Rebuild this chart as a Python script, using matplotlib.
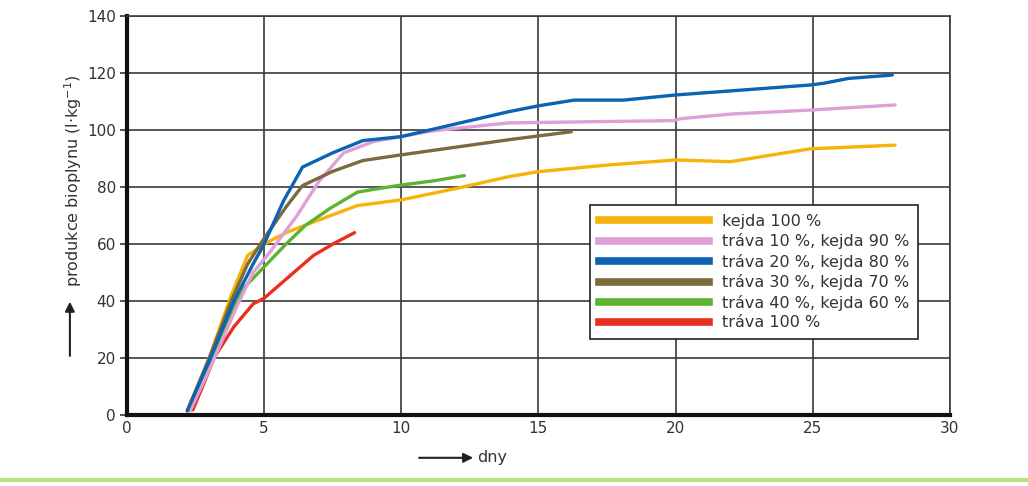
import matplotlib.pyplot as plt
from matplotlib.lines import Line2D

# data (days, l/kg)
kejda_x = [2.2, 3.0, 3.8, 4.4, 5.0, 5.8, 6.6, 8.4, 10.0, 12.0, 13.9, 15.0, 17.5, 20.0, 22.0, 24.9, 28.0]
kejda_y = [1.5, 20, 42, 56, 60, 64, 67, 73.5, 75.5, 79.5, 83.6, 85.4, 87.7, 89.5, 88.9, 93.4, 94.7]

trava10_x = [2.3, 3.1, 4.0, 4.6, 5.2, 6.2, 7.0, 7.9, 9.0, 10.0, 11.0, 12.1, 13.9, 17.5, 19.9, 20.2, 22.0, 24.9, 28.0]
trava10_y = [1.5, 18, 38, 50, 57, 70, 82, 92, 96, 97.7, 99.5, 100.7, 102.5, 103, 103.3, 104, 105.6, 107, 108.8]

trava20_x = [2.2, 3.0, 3.9, 4.6, 5.0, 5.7, 6.4, 7.5, 8.6, 10.0, 12.1, 13.9, 15.0, 16.3, 18.1, 20.0, 24.9, 25.4, 26.3, 27.9]
trava20_y = [1.5, 19, 40, 53, 60, 75, 87, 92, 96.3, 97.7, 102.4, 106.4, 108.5, 110.5, 110.5, 112.3, 115.8, 116.4, 118.1, 119.3]

trava30_x = [2.2, 3.0, 3.8, 4.4, 5.0, 5.8, 6.4, 7.5, 8.6, 10.0, 12.0, 14.0, 16.2]
trava30_y = [1.5, 20, 40, 53, 62, 73, 80.5, 85.5, 89.3, 91.3, 94.0, 96.7, 99.4]

trava40_x = [2.3, 3.0, 3.7, 4.3, 5.1, 5.8, 6.5, 7.4, 8.4, 9.0, 10.0, 11.2, 12.3]
trava40_y = [1.5, 18, 34, 45, 53, 60, 66.5, 72.5, 78.2, 79.2, 80.7, 82.2, 84.0]

trava100_x = [2.4, 2.8, 3.2, 3.9, 4.6, 5.0, 5.9, 6.8, 7.6, 8.3]
trava100_y = [1.8, 11, 20.5, 31, 39, 41, 48.5, 56, 60.5, 64]

labels = ['kejda 100 %', 'tráva 10 %, kejda 90 %', 'tráva 20 %, kejda 80 %',
          'tráva 30 %, kejda 70 %', 'tráva 40 %, kejda 60 %', 'tráva 100 %']
colors = ['#f6b40a', '#dea0d6', '#0c63b2', '#7b6a3c', '#5db232', '#ea2f20']

fig = plt.figure(figsize=(10.28, 4.86), dpi=100)
ax = fig.add_axes([0.1235, 0.146, 0.8005, 0.821])

series = [(kejda_x, kejda_y), (trava10_x, trava10_y), (trava20_x, trava20_y),
          (trava30_x, trava30_y), (trava40_x, trava40_y), (trava100_x, trava100_y)]
# draw order so the blue/brown sit on top like the original
order = [0, 5, 4, 1, 3, 2]
for i in order:
    xs, ys = series[i]
    ax.plot(xs, ys, color=colors[i], lw=2.4, solid_capstyle='round', zorder=3)

ax.set_xlim(0, 30)
ax.set_ylim(0, 140)
ax.set_xticks(range(0, 31, 5))
ax.set_yticks(range(0, 141, 20))
ax.grid(True, color='#3a3a3a', lw=1.2)
ax.set_axisbelow(True)
for s in ['top', 'right']:
    ax.spines[s].set_color('#3a3a3a')
    ax.spines[s].set_linewidth(1.2)
for s in ['left', 'bottom']:
    ax.spines[s].set_color('#111111')
    ax.spines[s].set_linewidth(3)
ax.tick_params(axis='x', length=0, pad=4, labelsize=11, labelcolor='#333333')
ax.tick_params(axis='y', length=5, width=1.2, color='#333333', pad=3, labelsize=11, labelcolor='#333333')

leg = ax.legend([Line2D([], [], color=c, lw=5.5) for c in colors], labels,
                loc='upper left', bbox_to_anchor=(0.5626, 0.526), borderaxespad=0,
                fontsize=11.5, handlelength=6.9, labelspacing=0.28, fancybox=False,
                framealpha=1, borderpad=0.55, handletextpad=0.8)
leg.get_frame().set_edgecolor('#222222')
leg.get_frame().set_linewidth(1.2)
for t in leg.get_texts():
    t.set_color('#333333')

# y label with arrow
fig.text(0.071, 0.628, 'produkce bioplynu (l·kg$^{-1}$)', rotation=90, ha='center', va='center',
         fontsize=11.5, color='#333333')
ax.annotate('', xy=(0.068, 0.385), xytext=(0.068, 0.262), xycoords='figure fraction',
            arrowprops=dict(arrowstyle='-|>', color='#222222', lw=1.5, mutation_scale=14))
# x label with arrow
fig.text(0.464, 0.058, 'dny', ha='left', va='center', fontsize=11.5, color='#333333')
ax.annotate('', xy=(0.463, 0.058), xytext=(0.405, 0.058), xycoords='figure fraction',
            arrowprops=dict(arrowstyle='-|>', color='#222222', lw=1.5, mutation_scale=14))

# light green strip at the bottom edge of the scan
fig.add_artist(Line2D([0, 1], [0.012, 0.012], transform=fig.transFigure, color='#b9e27a', lw=3))

fig.savefig('out.png', dpi=100)
